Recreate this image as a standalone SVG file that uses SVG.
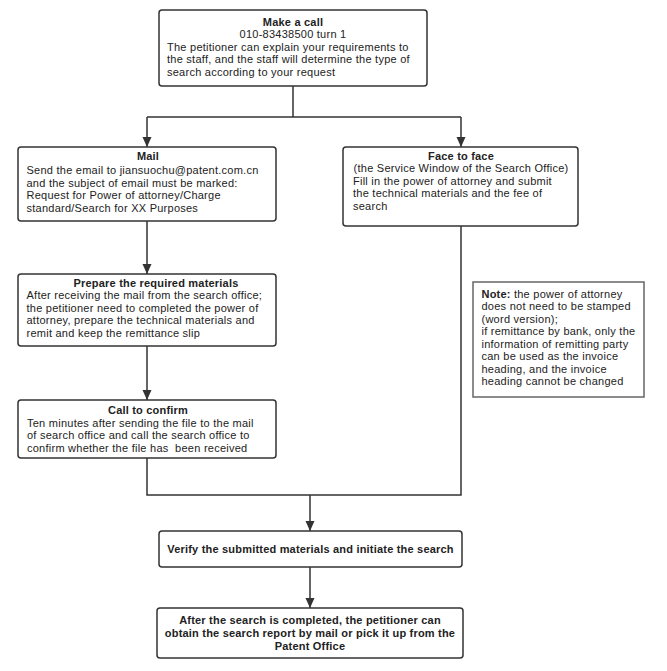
<svg xmlns="http://www.w3.org/2000/svg" width="667" height="671" viewBox="0 0 667 671">
<defs>
<style>
.box{fill:#fff;stroke:#333;stroke-width:1.5}
.note{fill:#fff;stroke:#666;stroke-width:1.5}
.t{font-family:"Liberation Sans",Arial,sans-serif;font-size:11px;fill:#222;letter-spacing:0.25px}
.b{font-weight:bold;letter-spacing:0.2px}
.c{text-anchor:middle}
.ln{fill:none;stroke:#333;stroke-width:1.5}
</style>
<marker id="ar" markerUnits="userSpaceOnUse" markerWidth="10" markerHeight="10" refX="10" refY="4.5" orient="auto">
<path d="M0,0 L10,4.5 L0,9 z" fill="#333"/>
</marker>
</defs>
<rect width="667" height="671" fill="#fff"/>
<g id="connectors">
<path class="ln" d="M293,86 V117"/>
<path class="ln" d="M147,117 H461"/>
<path class="ln" d="M147,117 V147" marker-end="url(#ar)"/>
<path class="ln" d="M461,117 V147" marker-end="url(#ar)"/>
<path class="ln" d="M147,221 V274" marker-end="url(#ar)"/>
<path class="ln" d="M147,346 V400" marker-end="url(#ar)"/>
<path class="ln" d="M147,458 V495 H461 V226"/>
<path class="ln" d="M310,495 V531" marker-end="url(#ar)"/>
<path class="ln" d="M310,567 V608" marker-end="url(#ar)"/>
</g>
<g id="make-call">
<rect class="box" x="159" y="10" width="268" height="76" rx="3"/>
<text class="t b c" x="293" y="25.5">Make a call</text>
<text class="t c" x="293" y="38">010-83438500 turn 1</text>
<text class="t" x="167" y="50.5">The petitioner can explain your requirements to</text>
<text class="t" x="167" y="63">the staff, and the staff will determine the type of</text>
<text class="t" x="167" y="75.5">search according to your request</text>
</g>
<g id="mail">
<rect class="box" x="18" y="147" width="258" height="74" rx="3"/>
<text class="t b c" x="148" y="160">Mail</text>
<text class="t" x="26.5" y="174">Send the email to jiansuochu@patent.com.cn</text>
<text class="t" x="26.5" y="186.5">and the subject of email must be marked:</text>
<text class="t" x="26.5" y="199">Request for Power of attorney/Charge</text>
<text class="t" x="26.5" y="211.5">standard/Search for XX Purposes</text>
</g>
<g id="face">
<rect class="box" x="343" y="147" width="235" height="79" rx="3"/>
<text class="t b c" x="461" y="159.5">Face to face</text>
<text class="t c" x="461" y="172"> (the Service Window of the Search Office)</text>
<text class="t" x="353" y="184.5">Fill in the power of attorney and submit</text>
<text class="t" x="353" y="197">the technical materials and the fee of</text>
<text class="t" x="353" y="209.5">search</text>
</g>
<g id="prepare">
<rect class="box" x="18" y="274" width="258" height="72" rx="3"/>
<text class="t b c" x="156" y="286.5">Prepare the required materials</text>
<text class="t" x="26.5" y="299">After receiving the mail from the search office;</text>
<text class="t" x="26.5" y="311.5">the petitioner need to completed the power of</text>
<text class="t" x="26.5" y="324">attorney, prepare the technical materials and</text>
<text class="t" x="26.5" y="336.5">remit and keep the remittance slip</text>
</g>
<g id="confirm">
<rect class="box" x="18" y="400" width="258" height="58" rx="3"/>
<text class="t b c" x="148" y="414">Call to confirm</text>
<text class="t" x="27" y="426.5">Ten minutes after sending the file to the mail</text>
<text class="t" x="27" y="439">of search office and call the search office to</text>
<text class="t" x="27" y="451.5" xml:space="preserve">confirm whether the file has  been received</text>
</g>
<g id="note">
<rect class="note" x="473" y="282" width="171" height="115"/>
<text class="t" x="481.5" y="297.5"><tspan class="b">Note:</tspan> the power of attorney</text>
<text class="t" x="481.5" y="310">does not need to be stamped</text>
<text class="t" x="481.5" y="322.5">(word version);</text>
<text class="t" x="481.5" y="335">if remittance by bank, only the</text>
<text class="t" x="481.5" y="347.5">information of remitting party</text>
<text class="t" x="481.5" y="360">can be used as the invoice</text>
<text class="t" x="481.5" y="372.5">heading, and the invoice</text>
<text class="t" x="481.5" y="385">heading cannot be changed</text>
</g>
<g id="verify">
<rect class="box" x="159" y="531" width="303" height="36" rx="3"/>
<text class="t b c" x="310.5" y="553">Verify the submitted materials and initiate the search</text>
</g>
<g id="result">
<rect class="box" x="157" y="608" width="306" height="50" rx="3"/>
<text class="t b c" x="310" y="624">After the search is completed, the petitioner can</text>
<text class="t b c" x="310" y="637">obtain the search report by mail or pick it up from the</text>
<text class="t b c" x="310" y="650">Patent Office</text>
</g>
</svg>
